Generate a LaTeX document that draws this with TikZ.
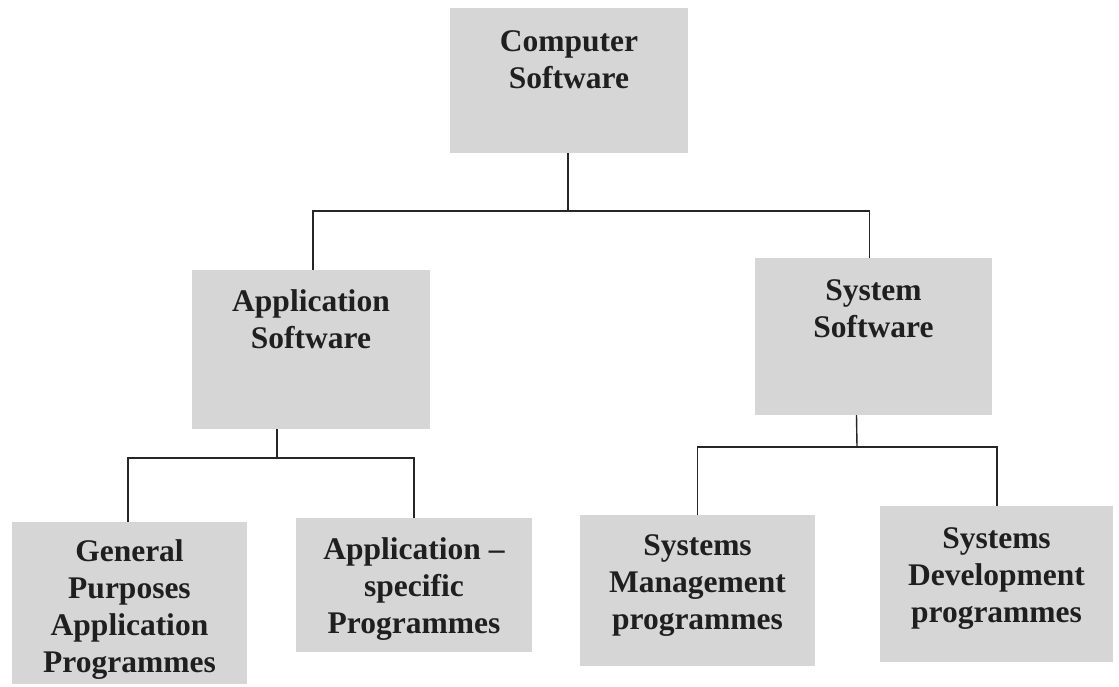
\documentclass[tikz,border=0pt]{standalone}
\usepackage{fontspec}
\setmainfont{Liberation Serif}
\begin{document}
\begin{tikzpicture}[x=1pt,y=-1pt,
  box/.style={draw=none,fill=black!16,rectangle,inner sep=0pt},
  txt/.style={anchor=north,align=center,inner sep=0pt,text=black!88,
    font=\bfseries\fontsize{31.5}{37}\selectfont},
  conn/.style={draw=black!85,line width=1.4pt}]
\useasboundingbox[fill=white] (0,0) rectangle (1119,686);
% boxes
\node[box,minimum width=238pt,minimum height=145pt] (cs) at (569,80.5) {};
\node[box,minimum width=238pt,minimum height=159pt] (app) at (311,349.5) {};
\node[box,minimum width=237pt,minimum height=157pt] (sys) at (873.5,336.5) {};
\node[box,minimum width=235pt,minimum height=162pt] (gp) at (129.5,603) {};
\node[box,minimum width=236pt,minimum height=134pt] (as) at (414,585) {};
\node[box,minimum width=235pt,minimum height=151pt] (sm) at (697.5,590.5) {};
\node[box,minimum width=233pt,minimum height=156pt] (sd) at (996.5,584) {};
% texts
\node[txt] (tcs) at ([yshift=-23pt]cs.north) {Computer\\Software};
\node[txt] (tapp) at ([yshift=-20pt]app.north) {Application\\Software};
\node[txt] (tsys) at ([yshift=-22pt]sys.north) {System\\Software};
\node[txt] (tgp) at ([yshift=-18pt]gp.north) {General\\Purposes\\Application\\Programmes};
\node[txt] (tas) at ([yshift=-20pt]as.north) {Application –\\specific\\Programmes};
\node[txt] (tsm) at ([yshift=-20pt]sm.north) {Systems\\Management\\programmes};
\node[txt] (tsd) at ([yshift=-22pt]sd.north) {Systems\\Development\\programmes};
% connectors
\coordinate (j1) at (568,211);
\coordinate (j2) at (277,458);
\coordinate (j3) at (857,447);
\draw[conn] ([xshift=-1pt]cs.south) -- (j1);
\draw[conn] ([xshift=2pt]app.north) |- (j1) -| ([xshift=-4pt]sys.north);
\draw[conn] ([xshift=-34pt]app.south) -- (j2);
\draw[conn] ([xshift=-1.5pt]gp.north) |- (j2) -| (as.north);
\draw[conn] ([xshift=-17pt]sys.south) -- (j3);
\draw[conn] (sm.north) |- (j3) -| ([xshift=0.5pt]sd.north);
\end{tikzpicture}
\end{document}
